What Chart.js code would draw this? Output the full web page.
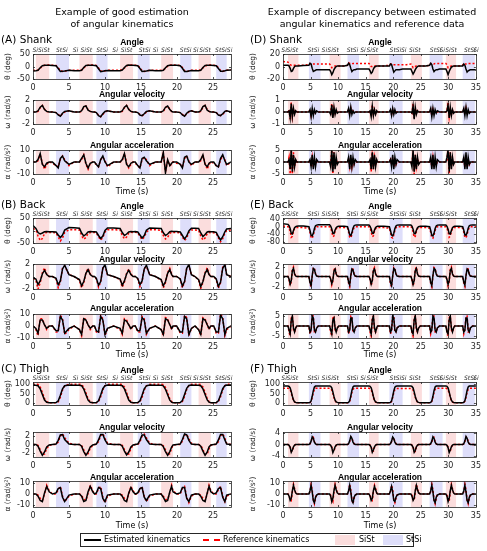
<!DOCTYPE html>
<html>
<head>
<meta charset="utf-8">
<script src="https://cdn.jsdelivr.net/npm/chart.js@4.4.1/dist/chart.umd.min.js"></script>
<style>
  body { margin: 0; background: #fff; }
  #page { position: relative; width: 487px; height: 551px; overflow: hidden; font-family: "DejaVu Sans", sans-serif; color: #000; }
  #page canvas { position: absolute; z-index: 1; }
  #labels { position: absolute; left: 0; top: 0; width: 487px; height: 551px; z-index: 5; }
  .txt { position: absolute; white-space: nowrap; line-height: 1; }
</style>
</head>
<body>
<div id="page"><div id="labels"></div></div>
<script>
// ---- phases (s) ----
const sistL = [[0.4, 2.25], [6.45, 8.3], [12.1, 13.9], [17.8, 19.45], [23.0, 24.7]];
const stsiL = [[3.2, 5.0], [8.8, 10.35], [14.55, 16.2], [20.45, 22.0], [25.45, 26.9]];
const sistR = [[0.9, 2.8], [8.45, 10.45], [15.6, 17.35], [23.2, 25.2], [29.55, 31.4]];
const stsiR = [[4.7, 6.8], [11.7, 13.8], [19.3, 21.7], [26.6, 28.95], [32.6, 34.8]];

const phaseTimesL = [0.3, 1.5, 4.0, 5.9, 7.4, 9.6, 11.4, 13.0, 15.5, 17.0, 18.6, 21.2, 22.6, 23.9, 26.1, 27.3];
const phaseTimesR = [0.2, 1.7, 5.5, 7.5, 9.1, 12.6, 14.5, 16.2, 20.4, 21.9, 23.9, 27.7, 28.9, 30.5, 33.9, 35.0];
const phaseText = ['Si', 'SiSt', 'StSi', 'Si', 'SiSt', 'StSi', 'Si', 'SiSt', 'StSi', 'Si', 'SiSt', 'StSi', 'Si', 'SiSt', 'StSi', 'Si'];

// ---- left trial (good estimation) ----
const tL = [0,
  0.4, 0.7, 1.0, 1.3, 1.6, 1.9, 2.25, 2.7, 3.2, 3.5, 3.8, 4.1, 4.4, 5.0, 5.7,
  6.45, 6.75, 7.05, 7.35, 7.65, 7.95, 8.3, 8.55, 8.8, 9.1, 9.4, 9.7, 10.0, 10.35, 11.2,
  12.1, 12.4, 12.7, 13.0, 13.3, 13.6, 13.9, 14.2, 14.55, 14.85, 15.15, 15.45, 15.75, 16.2, 17.0,
  17.8, 18.1, 18.4, 18.7, 19.0, 19.25, 19.45, 19.95, 20.45, 20.75, 21.05, 21.35, 21.65, 22.0, 22.5,
  23.0, 23.3, 23.6, 23.9, 24.2, 24.45, 24.7, 25.1, 25.45, 25.75, 26.05, 26.35, 26.65, 26.9, 27.5];

const shankAngEst = [-18,
  -17, -15, -5, 3, 5, 5, 5, 4, 3, -8, -20, -19, -18, -15, -17,
  -17, -15, -4, 4, 5, 5, 5, 4, 3, -9, -21, -19, -17, -16, -17,
  -17, -14, -4, 4, 6, 5, 5, 4, 3, -8, -20, -19, -18, -15, -17,
  -17, -15, -5, 3, 5, 5, 5, 5, 3, -7, -20, -20, -18, -16, -17,
  -17, -15, -4, 4, 5, 5, 5, 4, 3, -8, -19, -19, -17, -15, -14];
const shankAngRef = [-16,
  -15, -14, -7, 1, 5, 6, 6, 5, 4, -5, -16, -20, -18, -15, -15,
  -15, -14, -6, 2, 5, 6, 6, 5, 4, -6, -18, -20, -17, -15, -15,
  -15, -13, -6, 2, 6, 6, 6, 5, 4, -5, -17, -20, -18, -15, -15,
  -15, -14, -7, 1, 5, 6, 6, 5, 4, -4, -17, -21, -18, -15, -15,
  -15, -14, -6, 2, 5, 6, 6, 5, 4, -5, -16, -20, -17, -15, -13];
const shankVelEst = [0,
  0, 0.2, 0.8, 1.1, 0.4, 0.1, 0, 0, -0.1, -0.5, -0.7, -0.2, 0.1, 0.2, 0,
  0, 0.2, 0.9, 1.0, 0.3, 0.1, 0, 0, -0.1, -0.6, -0.8, -0.3, 0.1, 0.2, 0,
  0, 0.2, 0.8, 1.1, 0.4, 0.1, 0, 0, -0.1, -0.5, -0.6, -0.3, 0.1, 0.2, 0,
  0, 0.2, 0.8, 1.0, 0.4, 0.1, 0, 0, -0.1, -0.5, -0.7, -0.2, 0.1, 0.2, 0,
  0, 0.2, 0.9, 1.1, 0.3, 0.1, 0, 0, -0.1, -0.5, -0.6, -0.3, 0.1, 0.2, 0];
const shankVelRef = [0,
  0, 0.1, 0.7, 1.1, 0.5, 0.1, 0, 0, -0.1, -0.4, -0.7, -0.3, 0, 0.2, 0,
  0, 0.1, 0.8, 1.0, 0.4, 0.1, 0, 0, -0.1, -0.5, -0.8, -0.4, 0, 0.2, 0,
  0, 0.1, 0.7, 1.1, 0.5, 0.1, 0, 0, -0.1, -0.4, -0.6, -0.4, 0, 0.2, 0,
  0, 0.1, 0.7, 1.0, 0.5, 0.1, 0, 0, -0.1, -0.4, -0.7, -0.3, 0, 0.2, 0,
  0, 0.1, 0.8, 1.1, 0.4, 0.1, 0, 0, -0.1, -0.4, -0.6, -0.4, 0, 0.2, 0];
const shankAccEst = [0,
  0, 2, 7, -2, -4, -1, 0, 0, -3, -5, 3, 5, 1, -2, 0,
  0, 3, 6, -1, -5, -1, 0, 0, -2, -4, 2, 5, 0, -3, 0,
  0, 2, 7, -2, -4, -1, 0, 0, -3, -5, 3, 4, 1, -2, 0,
  0, 8, -9, 2, -3, -1, 0, 0, -2, -5, 4, 5, 0, -2, 0,
  0, 2, 6, -2, -4, -1, 0, 0, -3, -4, 3, 6, 1, -2, 0];
const shankAccRef = [0,
  0, 1, 6, -1, -6, -2, 0, -1, -3, -4, 2, 5, 2, -3, 0,
  0, 2, 6, -2, -6, -1, 0, -1, -2, -4, 2, 4, 1, -4, 0,
  0, 1, 7, -1, -5, -2, 0, -1, -3, -5, 2, 4, 2, -3, 0,
  0, 7, -8, 1, -3, -2, 0, -1, -2, -4, 3, 5, 1, -3, 0,
  0, 1, 6, -1, -6, -2, 0, -1, -3, -4, 2, 5, 2, -3, 0];

const backAngEst = [20,
  8, -8, -14, -10, -5, -4, -5, -5, -6, -18, -28, -18, 2, 12, 11,
  9, -10, -22, -15, -6, -4, -5, -5, -6, -20, -32, -22, 0, 10, 10,
  8, -8, -20, -14, -6, -4, -5, -4, -6, -18, -30, -20, 1, 10, 9,
  8, -9, -20, -14, -5, -3, -4, -4, -6, -20, -34, -22, -2, 9, 9,
  8, -10, -24, -16, -6, -4, -5, -5, -8, -24, -38, -25, -5, 6, 8];
const backAngRef = [8,
  2, -22, -40, -32, -12, -7, -8, -8, -10, -26, -42, -30, -8, 3, 3,
  2, -20, -35, -28, -12, -8, -8, -8, -10, -25, -38, -28, -6, 3, 3,
  2, -20, -33, -26, -11, -7, -8, -7, -9, -24, -36, -27, -6, 3, 3,
  1, -20, -34, -27, -12, -7, -8, -8, -10, -26, -40, -30, -8, 2, 2,
  1, -22, -38, -30, -12, -8, -9, -9, -12, -30, -45, -33, -10, 0, 2];
const backVelEst = [-0.2,
  -0.4, -1.3, -0.7, 0.4, 1.0, 0.3, 0, 0, -0.3, -1.3, -0.7, 1.2, 1.8, 0.3, 0,
  -0.5, -1.5, -0.8, 0.5, 1.1, 0.3, 0, 0, -0.3, -1.4, -0.8, 1.3, 1.9, 0.3, 0,
  -0.4, -1.4, -0.7, 0.4, 1.0, 0.3, 0, 0, -0.3, -1.3, -0.7, 1.2, 1.8, 0.3, 0,
  -0.5, -1.5, -0.8, 0.5, 1.1, 0.3, 0, 0, -0.4, -1.5, -0.8, 1.3, 1.9, 0.3, 0,
  -0.5, -1.6, -0.8, 0.5, 1.1, 0.3, 0, 0, -0.4, -1.6, -0.9, 1.3, 1.9, 0.3, 0];
const backVelRef = [-0.3,
  -0.6, -2.0, -1.0, 0.6, 1.4, 0.4, 0, 0, -0.4, -1.8, -0.9, 1.4, 1.7, 0.3, 0,
  -0.6, -1.8, -1.0, 0.6, 1.3, 0.4, 0, 0, -0.4, -1.7, -0.9, 1.4, 1.7, 0.3, 0,
  -0.5, -1.7, -0.9, 0.5, 1.2, 0.4, 0, 0, -0.4, -1.6, -0.8, 1.3, 1.6, 0.3, 0,
  -0.6, -1.8, -1.0, 0.6, 1.3, 0.4, 0, 0, -0.4, -1.8, -0.9, 1.4, 1.7, 0.3, 0,
  -0.6, -1.9, -1.0, 0.6, 1.4, 0.4, 0, 0, -0.5, -1.9, -1.0, 1.5, 1.8, 0.3, 0];
const backAccEst = [0,
  -2, -6, 5, 5, 1, -2, 0, 0, -4, -4, 8, 5, -6, -2, 0,
  -3, -7, 6, 5, 1, -2, 0, 0, -4, -5, 8, 5, -7, -2, 0,
  -2, -6, 5, 4, 1, -2, 0, 0, -4, -4, 7, 5, -6, -2, 0,
  -3, -7, 6, 5, 1, -2, 0, 0, -5, -5, 8, 6, -7, -2, 0,
  -3, -7, 6, 5, 1, -2, 0, 0, -5, -5, 9, 6, -7, -2, 0];
const backAccRef = [0,
  -3, -8, 6, 6, 1, -3, 0, 0, -5, -5, 9, 6, -7, -3, 0,
  -3, -8, 7, 5, 1, -3, 0, 0, -5, -6, 9, 6, -8, -2, 0,
  -3, -7, 6, 5, 1, -3, 0, 0, -5, -5, 8, 6, -7, -2, 0,
  -3, -8, 7, 6, 1, -3, 0, 0, -6, -6, 9, 7, -8, -2, 0,
  -3, -8, 7, 6, 1, -3, 0, 0, -6, -6, 10, 7, -8, -3, 0];

const thighAngEst = [95,
  95, 92, 75, 45, 15, 3, 0, 0, 1, 10, 40, 75, 92, 96, 95,
  95, 92, 74, 44, 14, 3, 0, 0, 1, 11, 42, 76, 92, 96, 95,
  95, 92, 75, 45, 15, 3, 0, 0, 1, 10, 40, 75, 91, 96, 95,
  95, 91, 73, 43, 14, 3, 0, 0, 1, 12, 44, 78, 93, 96, 95,
  95, 92, 75, 45, 15, 3, 0, 0, 1, 11, 42, 76, 92, 96, 95];
const thighAngRef = [100,
  100, 99, 85, 55, 22, 6, 0, 0, 0, 5, 30, 68, 92, 100, 100,
  100, 99, 84, 54, 21, 6, 0, 0, 0, 6, 32, 70, 92, 100, 100,
  100, 99, 85, 55, 22, 6, 0, 0, 0, 5, 30, 68, 91, 100, 100,
  100, 98, 83, 53, 21, 6, 0, 0, 0, 7, 34, 72, 93, 100, 100,
  100, 99, 85, 55, 22, 6, 0, 0, 0, 6, 32, 70, 92, 100, 100];
const thighVelEst = [0,
  0, -0.4, -1.6, -2.6, -1.8, -0.6, -0.1, 0, 0.1, 1.0, 2.3, 2.4, 1.2, 0.1, 0,
  0, -0.4, -1.7, -2.6, -1.8, -0.6, -0.1, 0, 0.1, 1.1, 2.4, 2.4, 1.1, 0.1, 0,
  0, -0.4, -1.6, -2.5, -1.8, -0.6, -0.1, 0, 0.1, 1.0, 2.3, 2.3, 1.2, 0.1, 0,
  0, -0.5, -1.7, -2.6, -1.7, -0.6, -0.1, 0, 0.1, 1.2, 2.5, 2.3, 1.0, 0.1, 0,
  0, -0.4, -1.6, -2.6, -1.8, -0.6, -0.1, 0, 0.1, 1.1, 2.4, 2.4, 1.1, 0.1, 0];
const thighVelRef = [0,
  0, -0.2, -1.2, -2.4, -2.3, -1.0, -0.2, 0, 0, 0.6, 2.0, 2.6, 1.6, 0.3, 0,
  0, -0.2, -1.3, -2.5, -2.2, -0.9, -0.2, 0, 0, 0.7, 2.1, 2.6, 1.5, 0.3, 0,
  0, -0.2, -1.2, -2.4, -2.3, -1.0, -0.2, 0, 0, 0.6, 2.0, 2.5, 1.6, 0.3, 0,
  0, -0.3, -1.3, -2.5, -2.2, -0.9, -0.2, 0, 0, 0.8, 2.2, 2.5, 1.4, 0.3, 0,
  0, -0.2, -1.2, -2.4, -2.3, -1.0, -0.2, 0, 0, 0.7, 2.1, 2.6, 1.5, 0.3, 0];
const thighAccEst = [0,
  0, -2, -6, -7, 1, 7, 2, 0, 1, 5, 6, -3, -7, -1, 0,
  0, -2, -7, -6, 2, 7, 2, 0, 1, 6, 5, -4, -7, -1, 0,
  0, -2, -6, -7, 1, 6, 2, 0, 1, 5, 6, -3, -6, -1, 0,
  0, -3, -7, -6, 2, 7, 2, 0, 1, 6, 6, -4, -7, -1, 0,
  0, -2, -6, -7, 1, 7, 2, 0, 1, 5, 6, -3, -7, -1, 0];
const thighAccRef = [0,
  0, -1, -4, -6, 0, 8, 3, 0, 0, 4, 7, -2, -7, -2, 0,
  0, -1, -5, -6, 1, 8, 3, 0, 0, 5, 7, -3, -8, -2, 0,
  0, -1, -4, -6, 0, 7, 3, 0, 0, 4, 7, -2, -7, -2, 0,
  0, -2, -5, -5, 1, 8, 3, 0, 0, 5, 7, -3, -8, -2, 0,
  0, -1, -4, -6, 0, 8, 3, 0, 0, 4, 7, -2, -7, -2, 0];

// ---- right trial (discrepancy) ----
const tR = [0,
  0.9, 1.1, 1.3, 1.5, 1.7, 1.9, 2.1, 2.3, 2.5, 2.8, 3.7, 4.7, 4.9, 5.1, 5.3, 5.5, 5.7, 5.9, 6.1, 6.4, 6.8, 7.6,
  8.45, 8.65, 8.85, 9.05, 9.25, 9.45, 9.65, 9.85, 10.1, 10.45, 11.1, 11.7, 11.9, 12.1, 12.3, 12.5, 12.7, 12.9, 13.1, 13.4, 13.8, 14.7,
  15.6, 15.8, 16.0, 16.2, 16.4, 16.6, 16.8, 17.0, 17.15, 17.35, 18.3, 19.3, 19.5, 19.7, 19.9, 20.1, 20.3, 20.5, 20.7, 21.1, 21.7, 22.4,
  23.2, 23.4, 23.6, 23.8, 24.0, 24.2, 24.4, 24.6, 24.9, 25.2, 25.9, 26.6, 26.8, 27.0, 27.2, 27.4, 27.6, 27.8, 28.0, 28.4, 28.95, 29.25,
  29.55, 29.75, 29.95, 30.15, 30.35, 30.55, 30.75, 30.95, 31.15, 31.4, 32.0, 32.6, 32.8, 33.0, 33.2, 33.4, 33.6, 33.8, 34.0, 34.4, 34.8, 35];

const shankAngEstR = [2,
  2, 1, -3, -8, -7, -3, 0, 1, 1, 1, 1.5, 2, 5, 4, -3, -8, -7, -6, -5, -5, -5, -5,
  -5, -8, -13, -10, -5, -2, 0, 1, 1, 1, 1, 2, 5, 3, -3, -8, -6, -5, -5, -4, -4, -4,
  -4, -7, -11, -9, -4, -1, 0, 1, 1, 1, 1, 1, 4, 3, -3, -9, -7, -5, -5, -5, -4, -4,
  -4, -8, -12, -9, -5, -2, 0, 1, 1, 1, 1, 2, 5, 3, -4, -8, -6, -5, -5, -4, -4, -4,
  -4, -8, -13, -8, -4, -1, 0, 1, 1, 1, 1, 1, 4, 2, -4, -9, -7, -6, -5, -5, -5, -6];
const shankAngRefR = [8,
  7, 5, 3, 2, 2, 2, 2, 2, 2, 2, 2, 3, 5, 4, 4, 4, 4, 4, 4, 4, 4, 4,
  4, 2, -2, -1, 0, 1, 1, 1, 1, 1, 1, 2, 6, 5, 4, 4, 5, 5, 5, 5, 5, 5,
  5, 3, 0, 0, 1, 1, 1, 1, 1, 1, 1, 2, 4, 4, 3, 3, 3, 3, 3, 3, 3, 3,
  4, 2, -2, -1, 0, 1, 1, 1, 1, 1, 1, 2, 5, 5, 4, 4, 5, 5, 5, 5, 5, 5,
  5, 3, -2, -1, 0, 1, 1, 1, 1, 1, 1, 2, 5, 4, 4, 4, 5, 5, 5, 5, 5, 5];
const shankVelEstR = [0,
  0, 0.1, -0.5, 0.7, -0.4, 0.3, -0.2, 0.1, 0, 0, 0, 0, 0.2, -0.4, 0.3, -0.3, 0.2, -0.1, 0.1, 0, 0, 0,
  0, -0.2, 0.6, -0.5, 0.4, -0.2, 0.2, -0.1, 0, 0, 0, 0, 0.3, -0.3, 0.4, -0.2, 0.1, -0.1, 0, 0, 0, 0,
  0, 0.1, -0.4, 0.5, -0.3, 0.2, -0.2, 0.1, 0, 0, 0, 0, 0.2, -0.3, 0.3, -0.2, 0.2, -0.1, 0, 0, 0, 0,
  0, -0.1, 0.5, -0.6, 0.4, -0.2, 0.1, 0, 0, 0, 0, 0, 0.3, -0.4, 0.3, -0.3, 0.2, -0.1, 0.1, 0, 0, 0,
  0, 0.1, 0.6, -0.5, 0.4, -0.3, 0.2, -0.1, 0, 0, 0, 0, 0.3, -0.3, 0.4, -0.3, 0.2, -0.1, 0, 0, 0, 0];
const shankVelRefR = [0,
  0, 0.2, -0.6, 0.8, -0.4, 0.2, -0.1, 0.1, 0, 0, 0, 0, 0.2, -0.3, 0.2, -0.2, 0.1, 0, 0, 0, 0, 0,
  0, -0.1, 0.7, -0.4, 0.3, -0.1, 0.1, 0, 0, 0, 0, 0, 0.2, -0.2, 0.3, -0.1, 0.1, 0, 0, 0, 0, 0,
  0, 0.1, -0.3, 0.6, -0.2, 0.2, -0.1, 0, 0, 0, 0, 0, 0.1, -0.2, 0.2, -0.2, 0.1, 0, 0, 0, 0, 0,
  0, -0.1, 0.7, -0.5, 0.3, -0.1, 0.1, 0, 0, 0, 0, 0, 0.2, -0.3, 0.2, -0.2, 0.1, 0, 0, 0, 0, 0,
  0, 0.1, 0.8, -0.4, 0.3, -0.2, 0.1, 0, 0, 0, 0, 0, 0.2, -0.2, 0.3, -0.2, 0.1, 0, 0, 0, 0, 0];
const shankAccEstR = [0,
  0, 1, -3, 5, -4, 3, -2, 1, 0, 0, 0, 0, 1, -2, 3, -3, 2, -2, 1, 0, 0, 0,
  0, -2, 5, -4, 4, -3, 2, -1, 0, 0, 0, 0, 2, -3, 3, -2, 2, -1, 1, 0, 0, 0,
  0, 1, -3, 4, -3, 3, -2, 1, 0, 0, 0, 0, 1, -2, 3, -3, 2, -1, 1, 0, 0, 0,
  0, -2, 5, -4, 3, -3, 2, -1, 0, 0, 0, 0, 2, -3, 3, -3, 2, -2, 1, 0, 0, 0,
  0, 2, 5, -4, 4, -3, 2, -1, 0, 0, 0, 0, 2, -3, 4, -3, 2, -1, 0, 0, 0, 0];
const shankAccRefR = [0,
  0, 2, -5, 5, -5, 4, -2, 1, 0, 0, 0, 0, 1, -2, 2, -2, 1, -1, 0, 0, 0, 0,
  0, -1, 5, -5, 4, -2, 1, 0, 0, 0, 0, 0, 1, -2, 2, -2, 1, -1, 0, 0, 0, 0,
  0, 1, -4, 5, -3, 2, -1, 0, 0, 0, 0, 0, 1, -1, 2, -2, 1, -1, 0, 0, 0, 0,
  0, -1, 5, -5, 3, -2, 1, 0, 0, 0, 0, 0, 1, -2, 2, -2, 1, -1, 0, 0, 0, 0,
  0, 1, 5, -5, 4, -2, 1, 0, 0, 0, 0, 0, 1, -2, 3, -2, 1, -1, 0, 0, 0, 0];

const backAngEstR = [15,
  12, 5, -10, -35, -38, -20, -5, 0, 2, 3, 3, 0, -20, -45, -48, -35, -10, 5, 8, 10, 10, 10,
  10, 3, -12, -35, -36, -18, -5, 0, 2, 2, 2, 0, -18, -42, -46, -32, -8, 5, 8, 9, 9, 9,
  9, 2, -12, -34, -35, -18, -4, 0, 2, 2, 2, 0, -20, -44, -48, -34, -10, 4, 8, 9, 9, 9,
  9, 3, -13, -36, -37, -19, -5, 0, 2, 2, 2, 0, -20, -45, -48, -35, -10, 4, 8, 9, 9, 9,
  9, 2, -14, -36, -38, -20, -5, 0, 2, 2, 2, 0, -18, -42, -45, -32, -8, 5, 8, 9, 9, 9];
const backAngRefR = [3,
  0, -5, -25, -55, -50, -25, -10, -5, -5, -5, -5, -8, -30, -58, -60, -45, -20, -5, 0, 0, 0, 0,
  0, -5, -25, -52, -48, -24, -10, -5, -5, -5, -5, -8, -28, -55, -58, -42, -18, -5, 0, 0, 0, 0,
  0, -6, -26, -52, -48, -24, -10, -5, -5, -5, -5, -8, -30, -56, -60, -44, -20, -5, 0, 0, 0, 0,
  0, -6, -27, -55, -50, -25, -10, -5, -5, -5, -5, -8, -30, -58, -60, -45, -20, -5, 0, 0, 0, 0,
  0, -6, -27, -55, -50, -25, -10, -5, -5, -5, -5, -8, -28, -55, -58, -42, -18, -5, 0, 0, 0, 0];
const backVelEstR = [0,
  0, -0.5, -1.5, -0.8, 1.2, 1.6, 0.5, 0.1, 0, 0, 0, 0, -1.2, -1.8, 0.2, 1.6, 1.4, 0.5, 0.1, 0, 0, 0,
  0, -0.5, -1.4, -0.7, 1.1, 1.5, 0.5, 0.1, 0, 0, 0, 0, -1.1, -1.7, 0.2, 1.5, 1.3, 0.4, 0.1, 0, 0, 0,
  0, -0.5, -1.5, -0.8, 1.2, 1.5, 0.5, 0.1, 0, 0, 0, 0, -1.2, -1.8, 0.1, 1.6, 1.4, 0.5, 0.1, 0, 0, 0,
  0, -0.6, -1.6, -0.8, 1.2, 1.6, 0.5, 0.1, 0, 0, 0, 0, -1.2, -1.8, 0.2, 1.6, 1.4, 0.5, 0.1, 0, 0, 0,
  0, -0.6, -1.6, -0.8, 1.2, 1.6, 0.5, 0.1, 0, 0, 0, 0, -1.1, -1.7, 0.2, 1.5, 1.3, 0.4, 0.1, 0, 0, 0];
const backVelRefR = [0,
  0, -0.6, -1.8, -1.0, 1.4, 1.9, 0.6, 0.1, 0, 0, 0, 0, -1.4, -2.1, 0, 1.8, 1.6, 0.6, 0.1, 0, 0, 0,
  0, -0.6, -1.7, -0.9, 1.3, 1.8, 0.6, 0.1, 0, 0, 0, 0, -1.3, -2.0, 0, 1.7, 1.5, 0.5, 0.1, 0, 0, 0,
  0, -0.6, -1.8, -1.0, 1.4, 1.8, 0.6, 0.1, 0, 0, 0, 0, -1.4, -2.1, 0, 1.8, 1.6, 0.6, 0.1, 0, 0, 0,
  0, -0.7, -1.9, -1.0, 1.4, 1.9, 0.6, 0.1, 0, 0, 0, 0, -1.4, -2.1, 0, 1.8, 1.6, 0.6, 0.1, 0, 0, 0,
  0, -0.7, -1.9, -1.0, 1.4, 1.9, 0.6, 0.1, 0, 0, 0, 0, -1.3, -2.0, 0, 1.7, 1.5, 0.5, 0.1, 0, 0, 0];
const backAccEstR = [0,
  0, -2, -4, 3, 5, -1, -3, -1, 0, 0, 0, 0, -3, -2, 5, 4, -2, -3, -1, 0, 0, 0,
  0, -2, -4, 3, 4, -1, -3, -1, 0, 0, 0, 0, -3, -2, 4, 4, -2, -3, -1, 0, 0, 0,
  0, -2, -4, 3, 5, -1, -3, -1, 0, 0, 0, 0, -3, -2, 5, 4, -2, -3, -1, 0, 0, 0,
  0, -3, -4, 3, 5, -1, -3, -1, 0, 0, 0, 0, -3, -2, 5, 4, -2, -3, -1, 0, 0, 0,
  0, -3, -4, 3, 5, -1, -3, -1, 0, 0, 0, 0, -3, -2, 4, 4, -2, -3, -1, 0, 0, 0];
const backAccRefR = [0,
  0, -3, -5, 4, 5, -2, -3, -1, 0, 0, 0, 0, -4, -2, 5, 5, -3, -3, -1, 0, 0, 0,
  0, -3, -5, 4, 5, -2, -3, -1, 0, 0, 0, 0, -4, -2, 5, 5, -3, -3, -1, 0, 0, 0,
  0, -3, -5, 4, 5, -2, -3, -1, 0, 0, 0, 0, -4, -2, 5, 5, -3, -3, -1, 0, 0, 0,
  0, -3, -5, 4, 5, -2, -3, -1, 0, 0, 0, 0, -4, -2, 5, 5, -3, -3, -1, 0, 0, 0,
  0, -3, -5, 4, 5, -2, -3, -1, 0, 0, 0, 0, -4, -2, 5, 5, -3, -3, -1, 0, 0, 0];

const thighAngEstR = [90,
  90, 88, 80, 60, 35, 15, 5, 2, 0, 0, 0, 0, 2, 10, 35, 65, 85, 90, 91, 91, 91, 91,
  91, 89, 80, 58, 33, 14, 5, 2, 0, 0, 0, 0, 2, 11, 36, 66, 85, 90, 91, 91, 91, 91,
  91, 89, 81, 60, 34, 14, 5, 2, 0, 0, 0, 0, 2, 10, 34, 64, 84, 89, 90, 90, 90, 90,
  90, 88, 80, 59, 34, 15, 5, 2, 0, 0, 0, 0, 2, 10, 35, 65, 85, 90, 91, 91, 91, 91,
  91, 89, 80, 58, 33, 14, 5, 2, 0, 0, 0, 0, 2, 11, 36, 66, 85, 90, 91, 91, 91, 91];
const thighAngRefR = [78,
  78, 76, 70, 52, 30, 12, 4, 1, 0, 0, 0, 0, 1, 8, 28, 55, 72, 78, 78, 78, 78, 78,
  78, 76, 69, 50, 28, 11, 4, 1, 0, 0, 0, 0, 1, 9, 30, 56, 72, 78, 78, 78, 78, 78,
  78, 76, 70, 52, 29, 11, 4, 1, 0, 0, 0, 0, 1, 8, 28, 54, 71, 77, 77, 77, 77, 77,
  77, 75, 69, 51, 29, 12, 4, 1, 0, 0, 0, 0, 1, 8, 29, 55, 72, 78, 78, 78, 78, 78,
  78, 76, 69, 50, 28, 11, 4, 1, 0, 0, 0, 0, 1, 9, 30, 56, 72, 78, 78, 78, 78, 78];
const thighVelEstR = [0,
  0, -0.3, -1.0, -2.8, -2.0, -0.8, -0.2, 0, 0, 0, 0, 0, 0.3, 1.2, 2.8, 2.2, 0.8, 0.2, 0, 0, 0, 0,
  0, -0.3, -1.1, -2.9, -2.0, -0.8, -0.2, 0, 0, 0, 0, 0, 0.3, 1.3, 2.9, 2.2, 0.8, 0.2, 0, 0, 0, 0,
  0, -0.3, -1.0, -2.8, -2.0, -0.8, -0.2, 0, 0, 0, 0, 0, 0.3, 1.2, 2.7, 2.1, 0.8, 0.2, 0, 0, 0, 0,
  0, -0.3, -1.0, -2.8, -2.1, -0.8, -0.2, 0, 0, 0, 0, 0, 0.3, 1.2, 2.8, 2.2, 0.8, 0.2, 0, 0, 0, 0,
  0, -0.3, -1.1, -2.9, -2.0, -0.8, -0.2, 0, 0, 0, 0, 0, 0.3, 1.3, 2.9, 2.2, 0.8, 0.2, 0, 0, 0, 0];
const thighVelRefR = [0,
  0, -0.2, -0.8, -2.5, -2.4, -1.0, -0.3, 0, 0, 0, 0, 0, 0.2, 1.0, 2.5, 2.6, 1.0, 0.3, 0, 0, 0, 0,
  0, -0.2, -0.9, -2.6, -2.4, -1.0, -0.3, 0, 0, 0, 0, 0, 0.2, 1.1, 2.6, 2.6, 1.0, 0.3, 0, 0, 0, 0,
  0, -0.2, -0.8, -2.5, -2.4, -1.0, -0.3, 0, 0, 0, 0, 0, 0.2, 1.0, 2.4, 2.5, 1.0, 0.3, 0, 0, 0, 0,
  0, -0.2, -0.8, -2.5, -2.5, -1.0, -0.3, 0, 0, 0, 0, 0, 0.2, 1.0, 2.5, 2.6, 1.0, 0.3, 0, 0, 0, 0,
  0, -0.2, -0.9, -2.6, -2.4, -1.0, -0.3, 0, 0, 0, 0, 0, 0.2, 1.1, 2.6, 2.6, 1.0, 0.3, 0, 0, 0, 0];
const thighAccEstR = [0,
  0, -2, -6, -4, 3, 8, 4, 1, 0, 0, 0, 0, 3, 8, 2, -6, -8, -3, -1, 0, 0, 0,
  0, -2, -7, -4, 3, 8, 4, 1, 0, 0, 0, 0, 3, 8, 2, -6, -8, -3, -1, 0, 0, 0,
  0, -2, -6, -4, 3, 7, 4, 1, 0, 0, 0, 0, 3, 7, 2, -6, -7, -3, -1, 0, 0, 0,
  0, -2, -6, -4, 3, 8, 4, 1, 0, 0, 0, 0, 3, 8, 2, -6, -8, -3, -1, 0, 0, 0,
  0, -2, -7, -4, 3, 8, 4, 1, 0, 0, 0, 0, 3, 8, 2, -6, -8, -3, -1, 0, 0, 0];
const thighAccRefR = [0,
  0, -1, -5, -6, 2, 9, 5, 1, 0, 0, 0, 0, 2, 9, 4, -5, -9, -4, -1, 0, 0, 0,
  0, -1, -5, -7, 2, 9, 5, 1, 0, 0, 0, 0, 2, 9, 4, -5, -9, -4, -1, 0, 0, 0,
  0, -1, -5, -6, 2, 8, 5, 1, 0, 0, 0, 0, 2, 8, 4, -5, -8, -4, -1, 0, 0, 0,
  0, -1, -5, -6, 2, 9, 5, 1, 0, 0, 0, 0, 2, 9, 4, -5, -9, -4, -1, 0, 0, 0,
  0, -1, -5, -7, 2, 9, 5, 1, 0, 0, 0, 0, 2, 9, 4, -5, -9, -4, -1, 0, 0, 0];

// ---- drawing ----
const page = document.getElementById('page');
const layer = document.getElementById('labels');
const FONT = '"DejaVu Sans", sans-serif';
const PINK = 'rgb(251,221,221)';
const BLUE = 'rgb(222,222,250)';
const AX = '#262626';

function text(str, x, y, size, align, extra) {
  const d = document.createElement('div');
  d.className = 'txt';
  d.textContent = str;
  d.style.fontSize = size + 'px';
  d.style.left = x + 'px';
  d.style.top = y + 'px';
  const tx = align === 'left' ? '0' : '-50%';
  d.style.transform = 'translate(' + tx + ',-50%)';
  if (extra) Object.assign(d.style, extra);
  layer.appendChild(d);
  return d;
}

const deco = {
  id: 'deco',
  beforeDatasetsDraw(chart, args, o) {
    const { ctx, chartArea: a, scales: { x } } = chart;
    ctx.save();
    o.sist.forEach(([s, e]) => {
      ctx.fillStyle = PINK;
      ctx.fillRect(x.getPixelForValue(s), a.top, x.getPixelForValue(e) - x.getPixelForValue(s), a.bottom - a.top);
    });
    o.stsi.forEach(([s, e]) => {
      ctx.fillStyle = BLUE;
      ctx.fillRect(x.getPixelForValue(s), a.top, x.getPixelForValue(e) - x.getPixelForValue(s), a.bottom - a.top);
    });
    ctx.restore();
  },
  afterDraw(chart, args, o) {
    const { ctx, chartArea: a, scales: { x, y } } = chart;
    ctx.save();
    ctx.strokeStyle = AX;
    ctx.lineWidth = 0.8;
    x.ticks.forEach(t => {
      const px = Math.round(x.getPixelForValue(t.value)) + 0.5;
      ctx.beginPath();
      ctx.moveTo(px, a.bottom); ctx.lineTo(px, a.bottom - 2);
      ctx.moveTo(px, a.top); ctx.lineTo(px, a.top + 2);
      ctx.stroke();
    });
    y.ticks.forEach(t => {
      const py = Math.round(y.getPixelForValue(t.value)) + 0.5;
      ctx.beginPath();
      ctx.moveTo(a.left, py); ctx.lineTo(a.left + 2, py);
      ctx.moveTo(a.right, py); ctx.lineTo(a.right - 2, py);
      ctx.stroke();
    });
    ctx.strokeRect(Math.round(a.left) + 0.5, Math.round(a.top) + 0.5, Math.round(a.right - a.left), Math.round(a.bottom - a.top));
    if (o.phases) {
      ctx.fillStyle = AX;
      ctx.font = 'italic 6px ' + FONT;
      ctx.textAlign = 'center';
      ctx.textBaseline = 'bottom';
      o.phases.forEach((t, i) => ctx.fillText(phaseText[i], x.getPixelForValue(t), a.top - 1));
    }
    // y-axis label, rotated, centred on the plot box
    ctx.fillStyle = AX;
    ctx.font = '7.5px ' + FONT;
    ctx.textAlign = 'center';
    ctx.textBaseline = 'middle';
    ctx.translate(8, (a.top + a.bottom) / 2);
    ctx.rotate(-Math.PI / 2);
    ctx.fillText(o.ylab, 0, 0);
    ctx.restore();
  }
};

function plot(col, top, bottom, t, est, ref, ylim, yticks, ylab, withPhases) {
  const left = col === 0 ? 0 : 245;
  const yW = col === 0 ? 33 : 38;
  const right = col === 0 ? 231 : 478;
  const xmax = col === 0 ? 27.5 : 35;
  const xticks = col === 0 ? [0, 5, 10, 15, 20, 25] : [0, 5, 10, 15, 20, 25, 30, 35];
  const padT = 10, padR = 7, xH = 14;
  const w = right + padR - left, h = bottom - top + padT + xH;
  const cv = document.createElement('canvas');
  cv.width = w; cv.height = h;
  cv.style.left = left + 'px'; cv.style.top = (top - padT) + 'px';
  cv.style.width = w + 'px'; cv.style.height = h + 'px';
  page.appendChild(cv);
  new Chart(cv, {
    type: 'line',
    data: {
      datasets: [
        // first dataset is painted last, so the estimate sits on top
        { data: t.map((v, i) => ({ x: v, y: est[i] })), borderColor: '#000000', borderWidth: 1.5, pointRadius: 0, tension: 0 },
        { data: t.map((v, i) => ({ x: v, y: ref[i] })), borderColor: '#ff0000', borderWidth: 1.5, borderDash: [2, 2], pointRadius: 0, tension: 0 }
      ]
    },
    options: {
      responsive: false, animation: false, devicePixelRatio: 1,
      layout: { padding: { top: padT, right: padR, left: 0, bottom: 0 } },
      plugins: {
        legend: { display: false }, tooltip: { enabled: false },
        deco: { ylab, sist: col === 0 ? sistL : sistR, stsi: col === 0 ? stsiL : stsiR, phases: withPhases ? (col === 0 ? phaseTimesL : phaseTimesR) : null }
      },
      scales: {
        x: {
          type: 'linear', min: 0, max: xmax,
          grid: { display: false, drawTicks: false }, border: { display: false },
          afterBuildTicks: s => { s.ticks = xticks.map(v => ({ value: v })); },
          ticks: { font: { size: 8, family: FONT }, color: AX, padding: 4, maxRotation: 0, autoSkip: false },
          afterFit: s => { s.height = xH; }
        },
        y: {
          min: ylim[0], max: ylim[1],
          grid: { display: false, drawTicks: false }, border: { display: false },
          afterBuildTicks: s => { s.ticks = yticks.map(v => ({ value: v })); },
          ticks: { font: { size: 8, family: FONT }, color: AX, padding: 3, autoSkip: false },
          afterFit: s => { s.width = yW; }
        }
      }
    },
    plugins: [deco]
  });
}

const TH = '\u03b8 (deg)', OM = '\u03c9 (rad/s)', AL = '\u03b1 (rad/s\u00b2)';

// left column
plot(0, 54, 79, tL, shankAngEst, shankAngRef, [-50, 50], [-50, 0, 50], TH, true);
plot(0, 100, 124, tL, shankVelEst, shankVelRef, [-2, 2], [-2, 0, 2], OM, false);
plot(0, 150, 174, tL, shankAccEst, shankAccRef, [-10, 10], [-10, 0, 10], AL, false);
plot(0, 218, 243, tL, backAngEst, backAngRef, [-50, 50], [-50, 0, 50], TH, true);
plot(0, 264, 289, tL, backVelEst, backVelRef, [-2, 2], [-2, 0, 2], OM, false);
plot(0, 314, 338, tL, backAccEst, backAccRef, [-10, 10], [-10, 0, 10], AL, false);
plot(0, 382, 405, tL, thighAngEst, thighAngRef, [-12, 112], [0, 50, 100], TH, true);
plot(0, 432, 457, tL, thighVelEst, thighVelRef, [-3, 3], [-2, 0, 2], OM, false);
plot(0, 481, 507, tL, thighAccEst, thighAccRef, [-12, 12], [-10, 0, 10], AL, false);
// right column
plot(1, 54, 79, tR, shankAngEstR, shankAngRefR, [-20, 20], [-20, 0, 20], TH, true);
plot(1, 100, 124, tR, shankVelEstR, shankVelRefR, [-1, 1], [-1, 0, 1], OM, false);
plot(1, 150, 174, tR, shankAccEstR, shankAccRefR, [-5, 5], [-5, 0, 5], AL, false);
plot(1, 218, 243, tR, backAngEstR, backAngRefR, [-85, 45], [-80, -40, 0, 40], TH, true);
plot(1, 264, 289, tR, backVelEstR, backVelRefR, [-2.5, 2.5], [-2, 0, 2], OM, false);
plot(1, 314, 338, tR, backAccEstR, backAccRefR, [-6, 6], [-5, 0, 5], AL, false);
plot(1, 382, 405, tR, thighAngEstR, thighAngRefR, [-12, 112], [0, 50, 100], TH, true);
plot(1, 432, 457, tR, thighVelEstR, thighVelRefR, [-4.5, 4.5], [-4, 0, 4], OM, false);
plot(1, 481, 507, tR, thighAccEstR, thighAccRefR, [-12, 12], [-10, 0, 10], AL, false);

// headings
text('Example of good estimation', 122, 12, 9.5);
text('of angular kinematics', 122, 24, 9.5);
text('Example of discrepancy between estimated', 372, 12, 9.5);
text('angular kinematics and reference data', 372, 24, 9.5);
[['(A) Shank', 1, 39], ['(B) Back', 1, 204], ['(C) Thigh', 1, 368],
 ['(D) Shank', 250, 39], ['(E) Back', 250, 204], ['(F) Thigh', 250, 368]].forEach(p => text(p[0], p[1], p[2], 10.5, 'left'));
const cxL = 132, cxR = 380;
[[42, 'Angle'], [94, 'Angular velocity'], [145, 'Angular acceleration'],
 [206, 'Angle'], [259, 'Angular velocity'], [308, 'Angular acceleration'],
 [370, 'Angle'], [427, 'Angular velocity'], [477, 'Angular acceleration']].forEach(r => {
  text(r[1], cxL, r[0], 8.5, 'center', { fontWeight: 'bold', fontFamily: '"Liberation Sans", sans-serif' });
  text(r[1], cxR, r[0], 8.5, 'center', { fontWeight: 'bold', fontFamily: '"Liberation Sans", sans-serif' });
});
[191.5, 355, 526].forEach(y => { text('Time (s)', cxL, y, 8); text('Time (s)', cxR, y, 8); });

// legend
const lg = document.createElement('div');
Object.assign(lg.style, { position: 'absolute', left: '80px', top: '533px', width: '332px', height: '12px', border: '1px solid #262626', background: '#fff' });
layer.appendChild(lg);
const seg = (x, w, css) => { const d = document.createElement('div'); Object.assign(d.style, { position: 'absolute', left: x + 'px', width: w + 'px' }, css); layer.appendChild(d); };
seg(84, 17, { top: '539px', height: '0', borderTop: '2px solid #000' });
seg(203, 17, { top: '539px', height: '0', borderTop: '2px dashed #ff0000' });
seg(335, 20, { top: '535px', height: '10px', background: PINK });
seg(383, 20, { top: '535px', height: '10px', background: BLUE });
text('Estimated kinematics', 104, 540, 8, 'left');
text('Reference kinematics', 223, 540, 8, 'left');
text('SiSt', 359, 540, 8, 'left');
text('StSi', 406, 540, 8, 'left');
</script>
</body>
</html>
